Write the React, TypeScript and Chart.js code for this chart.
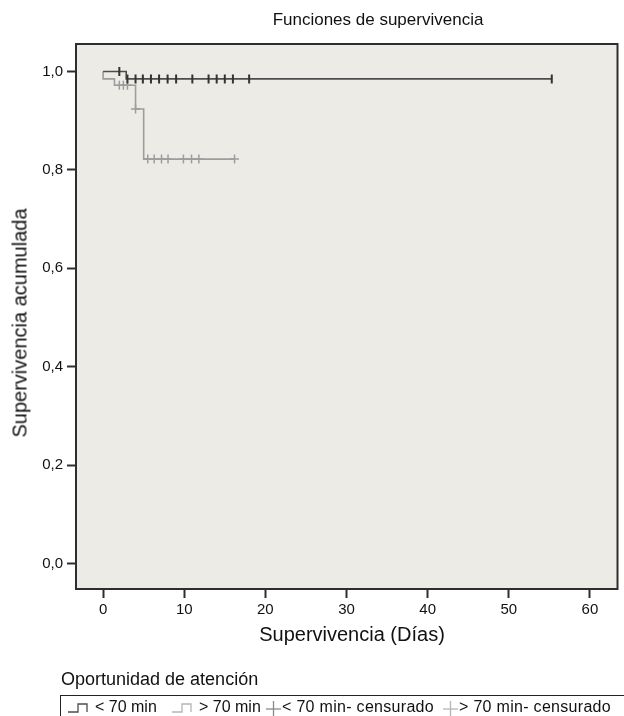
import React, { useEffect, useRef } from "react";
import { Chart, registerables } from "chart.js";

Chart.register(...registerables);

// ---- data ----
const xTickValues = [0, 10, 20, 30, 40, 50, 60];
const yTickValues = [0, 0.2, 0.4, 0.6, 0.8, 1.0];

// < 70 min: step curve (time, survival after that time)
const lessTimes = [0, 2.85, 55.3];
const lessSurv = [1.0, 0.985, 0.985];
// > 70 min
const moreTimes = [0, 0, 1.4, 4.0, 5.0, 16.2];
const moreSurv = [1.0, 0.985, 0.972, 0.924, 0.822, 0.822];

// censored marks
const lessCensTimes = [2.0, 3.0, 4.0, 4.9, 5.9, 6.9, 7.95, 9.0, 11.0, 13.0, 14.0, 15.0, 16.0, 18.0, 55.3];
const lessCensSurv = [1.0, 0.985, 0.985, 0.985, 0.985, 0.985, 0.985, 0.985, 0.985, 0.985, 0.985, 0.985, 0.985, 0.985, 0.985];
const moreCensTimes = [2.0, 2.5, 3.0, 4.0, 5.5, 6.3, 7.2, 8.0, 9.9, 10.9, 11.8, 16.2];
const moreCensSurv = [0.972, 0.972, 0.972, 0.924, 0.822, 0.822, 0.822, 0.822, 0.822, 0.822, 0.822, 0.822];

const seriesLabels = ["< 70 min", "> 70 min", "< 70 min- censurado", "> 70 min- censurado"];

const DARK = "#4d4d4d";
const DARK_CENS = "#333333";
const LIGHT = "#9d9d9d";
const FONT = "'Liberation Sans', Arial, sans-serif";

const toPts = (xs: number[], ys: number[]) => xs.map((x, i) => ({ x, y: ys[i] }));

const bgPlugin = {
  id: "plotBg",
  beforeDraw(chart: any) {
    const { ctx, chartArea } = chart;
    ctx.save();
    ctx.fillStyle = "#edebe6";
    ctx.fillRect(chartArea.left, chartArea.top, chartArea.right - chartArea.left, chartArea.bottom - chartArea.top);
    ctx.restore();
  },
  afterDraw(chart: any) {
    const { ctx, chartArea } = chart;
    ctx.save();
    ctx.strokeStyle = "#2e2e2e";
    ctx.lineWidth = 2;
    ctx.strokeRect(chartArea.left, chartArea.top, chartArea.right - chartArea.left, chartArea.bottom - chartArea.top);
    ctx.restore();
  },
};

function StepIcon({ color, left }: { color: string; left: number }) {
  return (
    <svg width="28" height="16" style={{ position: "absolute", left, top: 700 }}>
      <polyline points="1,12 11,12 11,4 20,4 20,12" fill="none" stroke={color} strokeWidth="1.3" />
    </svg>
  );
}
function CrossIcon({ color, left }: { color: string; left: number }) {
  return (
    <svg width="16" height="18" style={{ position: "absolute", left, top: 699 }}>
      <line x1="0" y1="10" x2="15" y2="10" stroke={color} strokeWidth="1.3" />
      <line x1="7.5" y1="2" x2="7.5" y2="18" stroke={color} strokeWidth="1.3" />
    </svg>
  );
}

export default function App() {
  const ref = useRef<HTMLCanvasElement | null>(null);
  useEffect(() => {
    if (!ref.current) return;
    const chart = new Chart(ref.current, {
      type: "scatter",
      data: {
        datasets: [
          {
            label: seriesLabels[0],
            data: toPts(lessTimes, lessSurv),
            showLine: true,
            stepped: true,
            borderColor: DARK,
            borderWidth: 1.6,
            pointRadius: 0,
            order: 2,
          } as any,
          {
            label: seriesLabels[1],
            data: toPts(moreTimes, moreSurv),
            showLine: true,
            stepped: true,
            borderColor: LIGHT,
            borderWidth: 1.6,
            pointRadius: 0,
            order: 3,
          } as any,
          {
            label: seriesLabels[2],
            data: toPts(lessCensTimes, lessCensSurv),
            showLine: false,
            pointStyle: "line",
            rotation: 90,
            radius: 4.5,
            borderColor: DARK_CENS,
            borderWidth: 2,
            order: 0,
          } as any,
          {
            label: seriesLabels[3],
            data: toPts(moreCensTimes, moreCensSurv),
            showLine: false,
            pointStyle: "cross",
            radius: 4.5,
            borderColor: LIGHT,
            borderWidth: 1.5,
            order: 1,
          } as any,
        ],
      },
      options: {
        animation: false,
        responsive: true,
        maintainAspectRatio: false,
        layout: { padding: { left: 0, top: 44, right: 3, bottom: 0 } },
        plugins: { legend: { display: false }, tooltip: { enabled: false }, title: { display: false } },
        scales: {
          x: {
            type: "linear",
            min: -3.34,
            max: 63.4,
            afterBuildTicks: (s: any) => {
              s.ticks = xTickValues.map((v) => ({ value: v }));
            },
            afterFit: (s: any) => {
              s.height = 127;
            },
            grid: { drawOnChartArea: false, drawTicks: true, tickLength: 9, tickWidth: 2, tickColor: "#2e2e2e" },
            border: { display: false },
            ticks: { color: "#111", font: { family: FONT, size: 15 }, padding: 3, maxRotation: 0, callback: (v: any) => String(v) },
          },
          y: {
            type: "linear",
            min: -0.052,
            max: 1.056,
            afterBuildTicks: (s: any) => {
              s.ticks = yTickValues.map((v) => ({ value: v }));
            },
            afterFit: (s: any) => {
              s.width = 76;
            },
            grid: { drawOnChartArea: false, drawTicks: true, tickLength: 9, tickWidth: 2, tickColor: "#2e2e2e" },
            border: { display: false },
            ticks: {
              color: "#111",
              font: { family: FONT, size: 15 },
              padding: 4,
              callback: (v: any) => Number(v).toFixed(1).replace(".", ","),
            },
          },
        },
      },
      plugins: [bgPlugin],
    } as any);
    return () => chart.destroy();
  }, []);

  const txt: React.CSSProperties = { position: "absolute", fontFamily: FONT, color: "#111", whiteSpace: "nowrap" };
  const leg: React.CSSProperties = { ...txt, top: 698, fontSize: 16 };
  return (
    <div style={{ position: "fixed", left: 0, top: 0, width: 624, height: 716, background: "#fff", overflow: "hidden" }}>
      <canvas ref={ref} style={{ position: "absolute", left: 0, top: 0, width: 624, height: 716 }} />
      <div style={{ ...txt, left: 178, width: 400, top: 10, fontSize: 17, textAlign: "center" }}>Funciones de supervivencia</div>
      <div
        style={{
          ...txt,
          left: 20,
          top: 323,
          fontSize: 20,
          transform: "translate(-50%, -50%) rotate(-90deg)",
        }}
      >
        Supervivencia acumulada
      </div>
      <div style={{ ...txt, left: 152, width: 400, top: 623, fontSize: 20, textAlign: "center" }}>Supervivencia (Días)</div>
      <div style={{ ...txt, left: 61, top: 669, fontSize: 18 }}>Oportunidad de atención</div>
      <div
        style={{
          position: "absolute",
          left: 60,
          top: 695,
          width: 600,
          height: 60,
          borderLeft: "1.5px solid #222",
          borderTop: "1.5px solid #222",
        }}
      />
      <StepIcon color={DARK} left={67} />
      <div style={{ ...leg, left: 95 }}>{seriesLabels[0]}</div>
      <StepIcon color="#b5b5b5" left={171} />
      <div style={{ ...leg, left: 199 }}>{seriesLabels[1]}</div>
      <CrossIcon color="#8a8a8a" left={266} />
      <div style={{ ...leg, left: 282, letterSpacing: 0.3 }}>{seriesLabels[2]}</div>
      <CrossIcon color="#b5b5b5" left={443} />
      <div style={{ ...leg, left: 459, letterSpacing: 0.3 }}>{seriesLabels[3]}</div>
    </div>
  );
}
